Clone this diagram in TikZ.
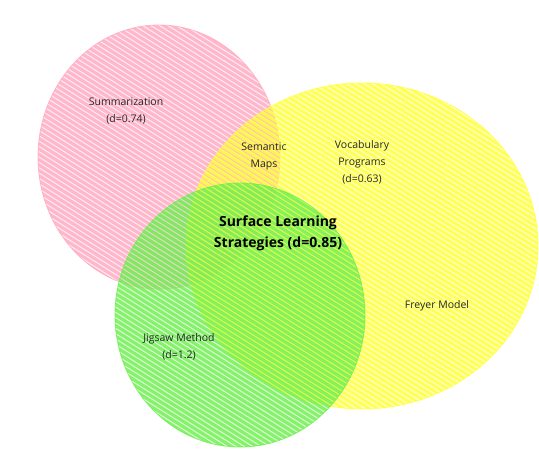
\documentclass[tikz,border=0pt]{standalone}
\usepackage{fontspec}
\setmainfont{Open Sans}
\begin{document}
\begin{tikzpicture}[x=1pt,y=-1pt,
  lbl/.style={font=\fontsize{10.5}{17}\selectfont, align=center, text=black!85, inner sep=0pt},
  title/.style={font=\fontsize{14}{21}\selectfont\bfseries, align=center, text=black, inner sep=0pt}]
\definecolor{pinkc}{RGB}{255,170,195}
\definecolor{yellc}{RGB}{255,255,60}
\definecolor{greenc}{RGB}{110,240,80}
\useasboundingbox[fill=white] (0,0) rectangle (539,463);
% hachure helper
\newcommand{\hachset}[5]{% cx, cy, rx, ry, colour
  \begin{scope}
    \clip (#1,#2) ellipse [x radius=#3, y radius=#4];
    \fill[#5, opacity=0.22] (#1,#2) ellipse [x radius=#3, y radius=#4];
    \begin{scope}[shift={(#1,#2)}, rotate=-32]
      \foreach \k in {-200,-195.5,...,200} {
        \draw[#5, opacity=0.8, line width=3.2pt, line cap=round] (-220,\k) -- (220,\k+1.5);
      }
    \end{scope}
  \end{scope}
  \draw[#5, line width=0.8pt, opacity=0.8] (#1,#2) ellipse [x radius=#3, y radius=#4];
}
\hachset{159}{157}{121}{132}{pinkc}
\hachset{362}{246}{176}{163}{yellc}
\hachset{240}{315}{125}{132}{greenc}

\node[lbl] (summ) at (126,111) {Summarization\\(d=0.74)};
\node[lbl] (sem) at (264,156) {Semantic\\Maps};
\node[lbl] (voc) at (362,162) {Vocabulary\\Programs\\(d=0.63)};
\node[title] (core) at (278,233) {Surface Learning\\Strategies (d=0.85)};
\node[lbl] (frey) at (437,306) {Freyer Model};
\node[lbl] (jig) at (179,347) {Jigsaw Method\\(d=1.2)};
\end{tikzpicture}
\end{document}
